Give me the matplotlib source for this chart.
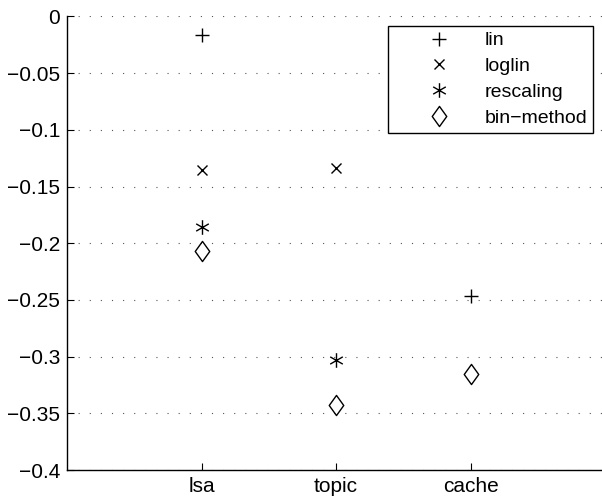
import matplotlib
matplotlib.use('Agg')
import matplotlib.pyplot as plt
import numpy as np
from matplotlib.path import Path

plt.rcParams.update({
    'font.family': ['Liberation Sans', 'DejaVu Sans'],
    'font.size': 15,
})

categories = ['lsa', 'topic', 'cache']
series_names = ['lin', 'loglin', 'rescaling', 'bin\u2212method']
# NaN = no point for that category
lin_vals = [-0.0163, np.nan, -0.2462]
loglin_vals = [-0.1354, -0.1335, np.nan]
rescaling_vals = [-0.1860, -0.3027, np.nan]
binmethod_vals = [-0.2065, -0.3430, -0.3153]
y_ticks = [0, -0.05, -0.1, -0.15, -0.2, -0.25, -0.3, -0.35, -0.4]
y_ticklabels = ['0', '\u22120.05', '\u22120.1', '\u22120.15', '\u22120.2',
                '\u22120.25', '\u22120.3', '\u22120.35', '\u22120.4']

# MATLAB-like markers
asterisk = []
codes = []
for ang in np.deg2rad([90, 30, -30]):
    c, s = np.cos(ang), np.sin(ang)
    asterisk += [(-c, -s), (c, s)]
    codes += [Path.MOVETO, Path.LINETO]
ASTERISK = Path(asterisk, codes)
DIAMOND = Path([(0, 1), (0.72, 0), (0, -1), (-0.72, 0), (0, 1)],
               [Path.MOVETO, Path.LINETO, Path.LINETO, Path.LINETO, Path.CLOSEPOLY])

styles = [
    dict(marker='+', markersize=10),
    dict(marker='x', markersize=7.5),
    dict(marker=ASTERISK, markersize=10.5),
    dict(marker=DIAMOND, markersize=14.5),
]

fig = plt.figure(figsize=(6.02, 4.97), dpi=100)
ax = fig.add_axes([67 / 602, 27 / 497, 538 / 602, 453.5 / 497])

x = np.arange(1, len(categories) + 1)
for name, vals, st in zip(series_names,
                          [lin_vals, loglin_vals, rescaling_vals, binmethod_vals],
                          styles):
    ax.plot(x, vals, linestyle='none', color='black', markerfacecolor='none',
            markeredgecolor='black', markeredgewidth=1.0, label=name, **st)

ax.set_xlim(0, 4)
ax.set_ylim(-0.4, 0)
ax.set_xticks(x)
ax.set_xticklabels(categories)
ax.set_yticks(y_ticks)
ax.set_yticklabels(y_ticklabels)
ax.tick_params(direction='in', length=5, width=0.8, colors='black', pad=5)
ax.yaxis.grid(True, linestyle=(0, (1, 9)), color='#555555', linewidth=0.8)
ax.set_axisbelow(True)
for side in ['top', 'right']:
    ax.spines[side].set_visible(False)
for side in ['left', 'bottom']:
    ax.spines[side].set_linewidth(1.0)

leg = ax.legend(loc='upper right', bbox_to_anchor=(593 / 602, (497 - 26) / 497),
                bbox_transform=fig.transFigure, borderaxespad=0, fancybox=False,
                framealpha=1, edgecolor='black', handlelength=4.65, handletextpad=0.0,
                labelspacing=0.42, borderpad=0.3, fontsize=14)
leg.get_frame().set_linewidth(1.0)

fig.savefig('out.png', dpi=100)
